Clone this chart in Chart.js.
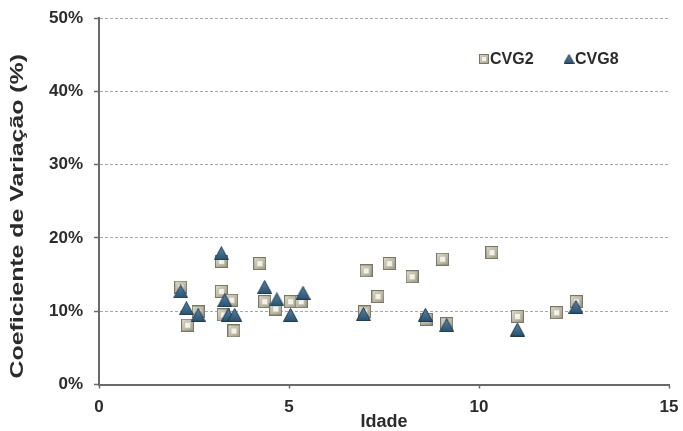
<!DOCTYPE html>
<html>
<head>
<meta charset="utf-8">
<script src="https://cdn.jsdelivr.net/npm/chart.js@4/dist/chart.umd.min.js"></script>
<style>
  html, body { margin: 0; padding: 0; background: #ffffff; }
  canvas { display: block; }
</style>
</head>
<body>
<canvas id="chart" width="683" height="431"></canvas>
<script>
// Coefficient of variation by age for two series
const seriesNames = ['CVG2', 'CVG8'];

const cvg2Idade = [2.15, 2.33, 2.61, 3.22, 3.22, 3.49, 3.27, 3.55, 4.23, 4.36, 4.65, 5.04, 5.32,
                   7.03, 6.99, 7.34, 7.64, 8.24, 9.04, 8.61, 9.15, 10.34, 11.01, 12.04, 12.56];
const cvg2CV    = [13.3, 8.1, 9.9, 16.8, 12.7, 11.5, 9.5, 7.3, 16.5, 11.3, 10.3, 11.3, 11.3,
                   15.5, 9.9, 12.0, 16.5, 14.7, 17.1, 8.9, 8.3, 18.0, 9.3, 9.8, 11.3];

const cvg8Idade = [2.15, 2.30, 2.61, 3.22, 3.31, 3.40, 3.57, 4.36, 4.68, 5.04, 5.37,
                   6.96, 8.59, 9.15, 11.01, 12.55];
const cvg8CV    = [12.7, 10.4, 9.5, 17.9, 11.5, 9.5, 9.5, 13.3, 11.6, 9.5, 12.5,
                   9.6, 9.5, 8.1, 7.5, 10.6];

const xTicks = [0, 5, 10, 15];
const yTicks = [0, 10, 20, 30, 40, 50];
const xTitle = 'Idade';
const yTitle = 'Coeficiente de Variação (%)';

const FONT = '"Liberation Sans", Arial, sans-serif';
const TEXT = '#2b2b2b';

// Bevelled beige square marker
function squareMarker(s) {
  const c = document.createElement('canvas');
  c.width = s; c.height = s;
  const g = c.getContext('2d');
  g.fillStyle = '#7a7664';
  g.fillRect(0, 0, s, s);
  const grd = g.createLinearGradient(0, 0, s, s);
  grd.addColorStop(0, '#e2dfcf');
  grd.addColorStop(1, '#9b9782');
  g.fillStyle = grd;
  g.fillRect(1, 1, s - 2, s - 2);
  const inner = Math.max(2, Math.round(s * 0.22));
  g.fillStyle = '#c4c0ac';
  g.fillRect(inner, inner, s - 2 * inner, s - 2 * inner);
  g.fillStyle = '#f3f2ea';
  g.fillRect(inner + 1, inner + 1, s - 2 * inner - 2, s - 2 * inner - 2);
  return c;
}

// Shaded dark-blue triangle marker
function triangleMarker(w, h) {
  const c = document.createElement('canvas');
  c.width = w; c.height = h;
  const g = c.getContext('2d');
  g.beginPath();
  g.moveTo(w / 2, 0.5);
  g.lineTo(w - 0.5, h - 0.5);
  g.lineTo(0.5, h - 0.5);
  g.closePath();
  const grd = g.createLinearGradient(0, 0, 0, h);
  grd.addColorStop(0, '#5b86a5');
  grd.addColorStop(1, '#28506e');
  g.fillStyle = grd;
  g.fill();
  g.strokeStyle = '#1d3a52';
  g.lineWidth = 1;
  g.stroke();
  return c;
}

const squareImg = squareMarker(13);
const triangleImg = triangleMarker(15, 14);
const squareLegendImg = squareMarker(10);
const triangleLegendImg = triangleMarker(11, 10);

function toPoints(xs, ys) {
  return xs.map((x, i) => ({ x: x, y: ys[i] }));
}

// Legend inside the plot area and the two axis titles (wide-set lettering)
const annotations = {
  id: 'annotations',
  afterDatasetsDraw(chart, args, opts) {
    const ctx = chart.ctx;
    const area = chart.chartArea;
    const icons = [squareLegendImg, triangleLegendImg];
    ctx.save();
    ctx.font = 'bold 16px ' + FONT;
    ctx.fillStyle = TEXT;
    ctx.textBaseline = 'middle';
    ctx.textAlign = 'left';
    opts.items.forEach((it, i) => {
      const img = icons[i];
      ctx.drawImage(img, it.x - img.width / 2, opts.y - img.height / 2);
      ctx.fillText(seriesNames[i], it.x + 6, opts.y + 1);
    });
    ctx.restore();

    // x-axis title
    ctx.save();
    ctx.font = 'bold 18px ' + FONT;
    ctx.fillStyle = TEXT;
    ctx.textAlign = 'center';
    ctx.textBaseline = 'middle';
    ctx.fillText(xTitle, (area.left + area.right) / 2, opts.xTitleY);
    ctx.restore();

    // y-axis title, rotated and widened along its length
    ctx.save();
    ctx.font = 'bold 18px ' + FONT;
    ctx.fillStyle = TEXT;
    ctx.textAlign = 'center';
    ctx.textBaseline = 'middle';
    ctx.translate(opts.yTitleX, (area.top + area.bottom) / 2 + 15);
    ctx.rotate(-Math.PI / 2);
    ctx.scale(1.38, 1);
    ctx.fillText(yTitle, 0, 0);
    ctx.restore();
  }
};

new Chart(document.getElementById('chart'), {
  type: 'scatter',
  data: {
    datasets: [
      {
        label: seriesNames[0],
        data: toPoints(cvg2Idade, cvg2CV),
        pointStyle: squareImg,
        order: 1
      },
      {
        label: seriesNames[1],
        data: toPoints(cvg8Idade, cvg8CV),
        pointStyle: triangleImg,
        order: 0
      }
    ]
  },
  options: {
    responsive: false,
    animation: false,
    events: [],
    layout: { padding: { left: 0, right: 14, top: 18, bottom: 0 } },
    plugins: {
      legend: { display: false },
      tooltip: { enabled: false },
      annotations: {
        y: 59,
        items: [{ x: 484 }, { x: 569 }],
        xTitleY: 422,
        yTitleX: 18
      }
    },
    scales: {
      x: {
        type: 'linear',
        min: xTicks[0],
        max: xTicks[xTicks.length - 1],
        afterBuildTicks: s => { s.ticks = xTicks.map(v => ({ value: v })); },
        afterFit: s => { s.height = 46.5; s.paddingLeft = 0; s.paddingRight = 0; },
        grid: {
          drawOnChartArea: false,
          drawTicks: true,
          tickLength: 4,
          tickColor: '#6a6a6a',
          tickWidth: 1.5
        },
        border: { display: true, color: '#6a6a6a', width: 2 },
        ticks: {
          padding: 9,
          color: TEXT,
          font: { family: FONT, size: 17, weight: 'bold' },
          maxRotation: 0
        },
        title: { display: false }
      },
      y: {
        type: 'linear',
        min: yTicks[0],
        max: yTicks[yTicks.length - 1],
        afterBuildTicks: s => { s.ticks = yTicks.map(v => ({ value: v })); },
        afterFit: s => { s.width = 99; s.paddingTop = 0; s.paddingBottom = 0; },
        grid: {
          color: c => (c.tick && c.tick.value === 0) ? 'rgba(0,0,0,0)' : '#a8a8a8',
          lineWidth: 1,
          drawTicks: true,
          tickLength: 5,
          tickColor: '#6a6a6a',
          tickWidth: 1.5,
          tickBorderDash: []
        },
        border: { display: true, color: '#6a6a6a', width: 2, dash: [3, 2] },
        ticks: {
          padding: 11,
          color: TEXT,
          font: { family: FONT, size: 17, weight: 'bold' },
          callback: v => v + '%'
        },
        title: { display: false }
      }
    }
  },
  plugins: [annotations]
});
</script>
</body>
</html>
